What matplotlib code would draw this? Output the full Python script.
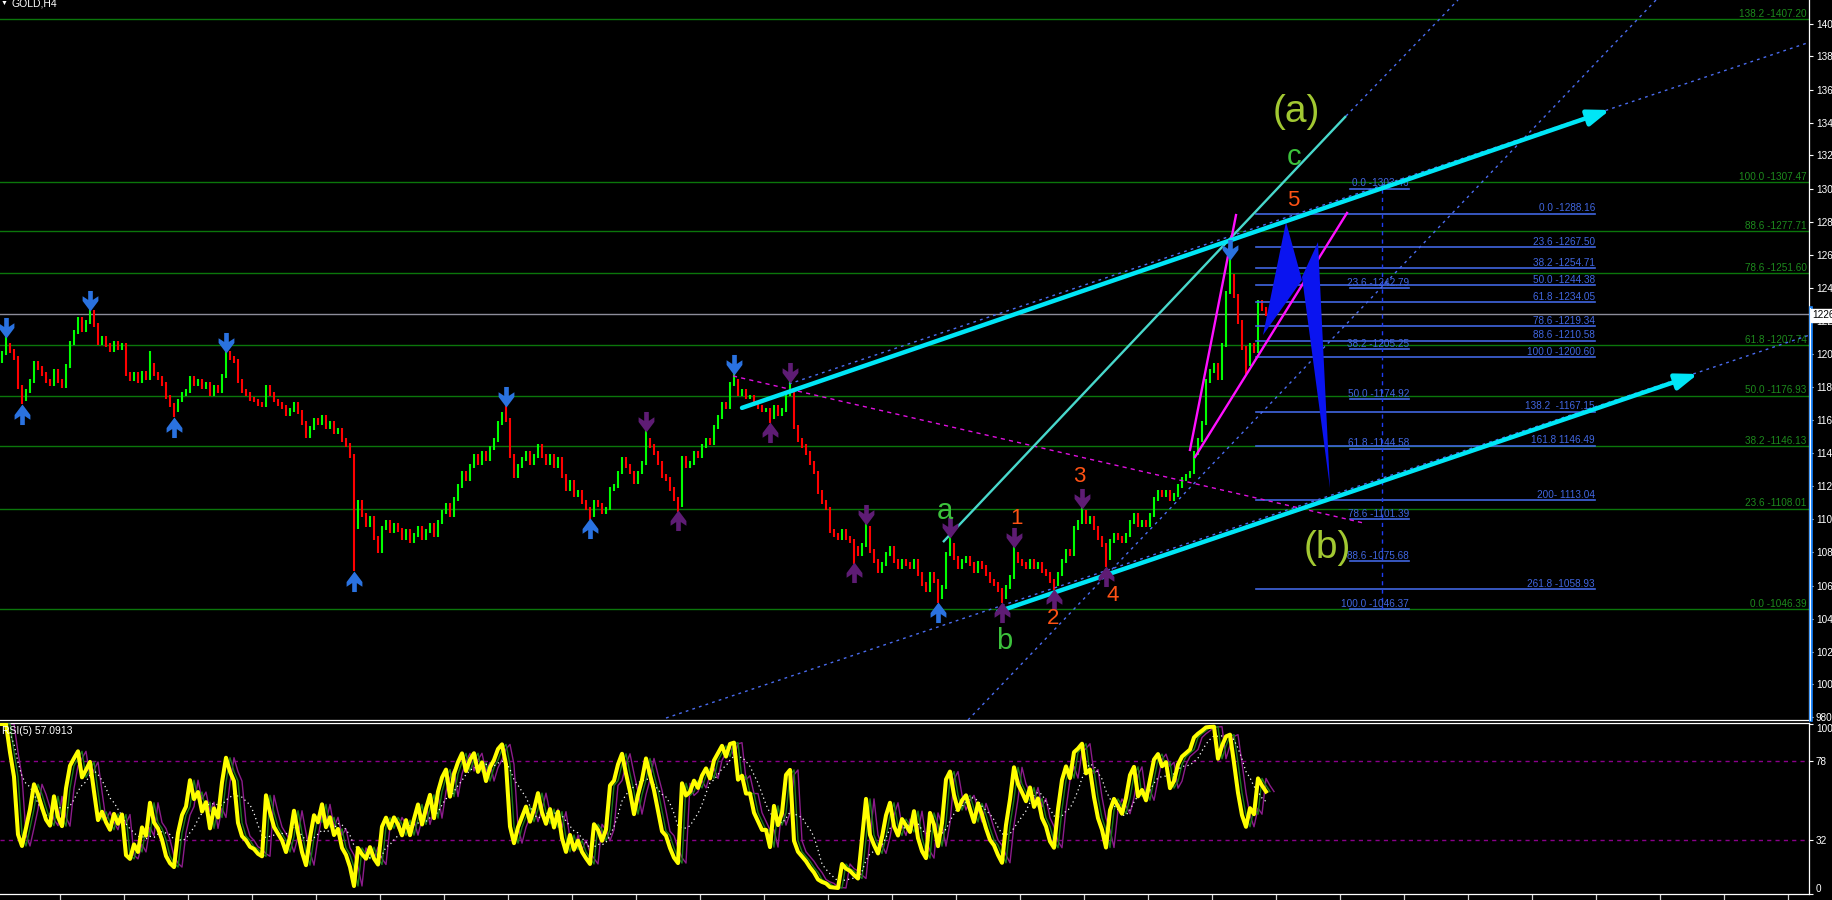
import numpy as np
import pandas as pd
import matplotlib
matplotlib.use("Agg")
import matplotlib.pyplot as plt
from matplotlib.path import Path
from matplotlib.lines import Line2D
from matplotlib.patches import Polygon

plt.rcParams["font.family"] = ["Liberation Sans", "DejaVu Sans"]

# ---------------- data ----------------
symbol_label = "GOLD,H4"
rsi_label = "RSI(5) 57.0913"

first_open = 1198.0
close = [
    1203, 1208, 1204, 1200, 1182, 1175, 1180, 1186, 1197, 1194, 1190, 1186, 1184, 1192, 1186, 1183, 1195, 1209, 1216, 1224, 1217, 1222, 1228, 1220, 1209,
    1212, 1208, 1205, 1209, 1206, 1208, 1190, 1187, 1190, 1186, 1191, 1188, 1196, 1190, 1188, 1184, 1176, 1171, 1168, 1174, 1178, 1180, 1188, 1184, 1186,
    1182, 1184, 1178, 1182, 1180, 1189, 1203, 1200, 1198, 1186, 1180, 1178, 1175, 1174, 1172, 1171, 1182, 1178, 1174, 1172, 1170, 1166, 1168, 1172, 1167,
    1160, 1152, 1157, 1162, 1160, 1164, 1158, 1160, 1155, 1156, 1150, 1147, 1140, 1097, 1112, 1104, 1098, 1102, 1090, 1082, 1096, 1100, 1094, 1098, 1095,
    1090, 1094, 1088, 1092, 1096, 1090, 1094, 1098, 1092, 1100, 1106, 1110, 1104, 1114, 1122, 1130, 1126, 1134, 1140, 1136, 1142, 1138, 1145, 1150, 1160,
    1166, 1162, 1140, 1128, 1134, 1138, 1142, 1136, 1140, 1146, 1140, 1136, 1140, 1134, 1138, 1128, 1120, 1124, 1116, 1118, 1112, 1108, 1104, 1112, 1110,
    1106, 1108, 1120, 1122, 1130, 1138, 1134, 1130, 1124, 1130, 1136, 1150, 1146, 1142, 1136, 1128, 1126, 1120, 1114, 1110, 1139, 1134, 1136, 1142, 1140,
    1146, 1150, 1148, 1158, 1164, 1172, 1170, 1184, 1186, 1178, 1180, 1176, 1176, 1172, 1170, 1168, 1168, 1164, 1170, 1166, 1168, 1178, 1180, 1158, 1150,
    1146, 1142, 1136, 1130, 1118, 1112, 1108, 1094, 1092, 1090, 1094, 1090, 1088, 1084, 1080, 1086, 1096, 1082, 1076, 1070, 1074, 1080, 1084, 1076, 1072,
    1076, 1074, 1072, 1076, 1068, 1062, 1058, 1068, 1064, 1054, 1060, 1080, 1086, 1078, 1072, 1076, 1078, 1074, 1070, 1075, 1072, 1068, 1064, 1062, 1058,
    1054, 1060, 1066, 1080, 1076, 1074, 1072, 1076, 1072, 1074, 1070, 1068, 1064, 1062, 1068, 1076, 1082, 1080, 1096, 1100, 1106, 1100, 1102, 1096, 1090,
    1086, 1078, 1088, 1092, 1090, 1088, 1092, 1100, 1104, 1098, 1100, 1098, 1104, 1114, 1118, 1116, 1118, 1114, 1116, 1122, 1126, 1128, 1130, 1142, 1150,
    1160, 1186, 1192, 1196, 1188, 1208, 1240, 1250, 1238, 1222, 1206, 1196, 1208, 1204, 1234, 1230, 1227,
]

wick_high_bar = [1, 22, 37, 56, 126, 161, 183, 197, 216, 237, 253, 270, 307]
wick_high = [1214, 1231, 1204, 1206, 1172, 1156, 1191, 1186, 1099, 1091, 1085, 1109, 1262]
wick_low_bar = [5, 43, 88, 147, 169, 192, 213, 234, 250, 263, 276, 311]
wick_low = [1172, 1164, 1070, 1101, 1106, 1160, 1074, 1050, 1050, 1058, 1072, 1190]

current_price = 1226.80
current_price_label = "1226"

price_tick_values = [980.5, 1000.5, 1020.6, 1040.8, 1060.9, 1081.2, 1101.4, 1121.5, 1141.7, 1162.0, 1182.2,
                     1202.4, 1222.5, 1243.0, 1263.1, 1283.3, 1303.5, 1324.0, 1343.8, 1364.0, 1384.2, 1404.3]
price_tick_labels = ["980.", "1000", "1020", "1040", "1060", "1081", "1101", "1121", "1141", "1162", "1182",
                     "1202", "1222", "1243", "1263", "1283", "1303", "1324", "1343", "1364", "1384", "1404"]

# fractal arrows (bar index, price)
blue_down_bar = [1, 22, 56, 126, 183, 307]
blue_down_price = [1218, 1235, 1209, 1176, 1196, 1266]
blue_up_bar = [5, 43, 88, 147, 234]
blue_up_price = [1166, 1158, 1064, 1096, 1045]
purple_down_bar = [161, 197, 216, 237, 253, 270]
purple_down_price = [1161, 1191, 1104, 1096, 1090, 1114]
purple_up_bar = [169, 192, 213, 250, 263, 276]
purple_up_price = [1101, 1155, 1069, 1045, 1053, 1067]

# green Fibonacci levels (full width)
green_fib_price = [1407.20, 1307.47, 1277.71, 1251.60, 1207.74, 1176.93, 1146.13, 1108.01, 1046.39]
green_fib_text = ["138.2 -1407.20", "100.0 -1307.47", "88.6 -1277.71", "78.6 -1251.60", "61.8 -1207.74",
                  "50.0 -1176.93", "38.2 -1146.13", "23.6 -1108.01", "0.0 -1046.39"]

# blue Fibonacci expansion
fibB_price = [1288.16, 1267.50, 1254.71, 1244.38, 1234.05, 1219.34, 1210.58, 1200.60, 1167.15, 1146.49, 1113.04, 1058.93]
fibB_text = ["0.0 -1288.16", "23.6 -1267.50", "38.2 -1254.71", "50.0 -1244.38", "61.8 -1234.05", "78.6 -1219.34",
             "88.6 -1210.58", "100.0 -1200.60", "138.2  -1167.15", "161.8 1146.49", "200- 1113.04", "261.8 -1058.93"]
fibB_bars = [313.5, 398.25]

# blue Fibonacci retracement
fibA_price = [1303.46, 1242.79, 1205.25, 1174.92, 1144.58, 1101.39, 1075.68, 1046.37]
fibA_text = ["0.0 -1303.46", "23.6 -1242.79", "38.2 -1205.25", "50.0 -1174.92", "61.8 -1144.58",
             "78.6 -1101.39", "88.6 -1075.68", "100.0 -1046.37"]
fibA_bars = [337.0, 351.75]
fibA_anchor_bar = 345.0

# trend lines: (bar0, price0, bar1, price1)
cyan_upper = [185.0, 1169.5, 402.0, 1351.5]
cyan_lower = [249.0, 1045.0, 424.0, 1190.2]
dotted_upper = [196.75, 1184.1, 452.0, 1393.0]
dotted_lower = [166.0, 980.0, 452.0, 1214.1]
turq_line = [235.25, 1087.5, 336.0, 1347.8]
turq_extension = [336.0, 1347.8, 364.0, 1418.7]
dotted_steep = [241.5, 978.8, 413.5, 1418.7]
magenta_steep = [297.0, 1143.8, 308.5, 1287.3]
magenta_lower = [298.25, 1139.5, 336.25, 1288.6]
magenta_dashed = [182.75, 1189.0, 340.5, 1099.1]

# projected zig-zag (filled triangles)
tri1_bars = [315.25, 321.0, 325.0]
tri1_price = [1214.0, 1283.1, 1247.6]
tri2_bars = [325.0, 329.0, 332.0]
tri2_price = [1249.5, 1270.8, 1120.5]

# wave labels
big_labels = ["(a)", "(b)"]
big_label_bar = [323.5, 331.25]
big_label_price = [1350.3, 1083.9]
green_labels = ["c", "a", "b"]
green_label_bar = [323.0, 235.75, 250.5]
green_label_price = [1322.8, 1106.5, 1027.0]
num_labels = ["5", "1", "2", "3", "4"]
num_label_bar = [322.75, 253.75, 262.75, 269.25, 277.75]
num_label_price = [1296.5, 1102.2, 1041.1, 1127.3, 1055.1]

rsi_period = 5
rsi_levels = [78, 32]
rsi_ticks = [0, 32, 78, 100]

# ---------------- figure ----------------
W, H = 1832, 900
fig = plt.figure(figsize=(W / 100, H / 100), dpi=100, facecolor="black")

def fx(x):
    return x / W

def fy(y):
    return 1 - y / H

ax = fig.add_axes([0, fy(720), fx(1809), 720 / H])
ax_r = fig.add_axes([0, fy(894), fx(1809), (894 - 723) / H])

for a in (ax, ax_r):
    a.set_facecolor("black")
    a.set_xlim(-0.5, 451.75)
    for s in a.spines.values():
        s.set_color("white")
        s.set_linewidth(0.9)
    a.spines["left"].set_visible(False)

ax.spines["top"].set_visible(False)
ax.set_ylim(978.8, 1418.7)

# ---- bars ----
c = np.array(close, dtype=float)
o = np.concatenate([[first_open], c[:-1]])
hi = np.maximum(o, c) + 1.2
lo = np.minimum(o, c) - 1.2
for b, v in zip(wick_high_bar, wick_high):
    hi[b] = max(hi[b], v)
for b, v in zip(wick_low_bar, wick_low):
    lo[b] = min(lo[b], v)
x = np.arange(len(c))
up = c >= o
ax.vlines(x[up], lo[up], hi[up], color="#00ff00", lw=1.5, zorder=3)
ax.vlines(x[~up], lo[~up], hi[~up], color="#ff0000", lw=1.5, zorder=3)

# ---- green fib levels ----
for p, t in zip(green_fib_price, green_fib_text):
    ax.axhline(p, color="#0b760b", lw=1.0, zorder=1)
    ax.annotate(t, (451.2, p), xytext=(0, 1.6), textcoords="offset points", ha="right", va="baseline",
                color="#1d8a1d", fontsize=7.2, zorder=2)

# current price line
ax.axhline(current_price, color="#8d8d9a", lw=1.0, zorder=1)

# ---- blue fibs ----
fib_blue = "#4066e0"
for p, t in zip(fibB_price, fibB_text):
    ax.plot(fibB_bars, [p, p], color=fib_blue, lw=1.2, zorder=4)
    ax.annotate(t, (fibB_bars[1], p), xytext=(0, 1.6), textcoords="offset points", ha="right", va="baseline",
                color=fib_blue, fontsize=7.2, zorder=5)
for p, t in zip(fibA_price, fibA_text):
    ax.plot(fibA_bars, [p, p], color=fib_blue, lw=1.2, zorder=4)
    ax.annotate(t, (fibA_bars[1], p), xytext=(0, 1.6), textcoords="offset points", ha="right", va="baseline",
                color=fib_blue, fontsize=7.2, zorder=5)
ax.plot([fibA_anchor_bar, fibA_anchor_bar], [fibA_price[0], fibA_price[-1]], color="#1e3cf0", lw=1.0,
        ls=(0, (3, 3)), zorder=4)

# ---- dotted blue channel lines ----
dot_blue = "#4a6cf0"
for L in (dotted_upper, dotted_lower, turq_extension, dotted_steep):
    ax.plot([L[0], L[2]], [L[1], L[3]], color=dot_blue, lw=1.0, ls=(0, (2, 3)), zorder=4)

# magenta dashed
ax.plot([magenta_dashed[0], magenta_dashed[2]], [magenta_dashed[1], magenta_dashed[3]],
        color="#e010e0", lw=1.0, ls=(0, (3, 3)), zorder=4)

# thin turquoise line
ax.plot([turq_line[0], turq_line[2]], [turq_line[1], turq_line[3]], color="#48d8cc", lw=1.7, zorder=5,
        solid_capstyle="butt")

# magenta wedge lines
for L in (magenta_steep, magenta_lower):
    ax.plot([L[0], L[2]], [L[1], L[3]], color="#ff10ff", lw=1.7, zorder=5)

# projected zigzag
ax.add_patch(Polygon(list(zip(tri1_bars, tri1_price)), closed=True, color="#0a14f0", lw=0, zorder=5))
ax.add_patch(Polygon(list(zip(tri2_bars, tri2_price)), closed=True, color="#0a14f0", lw=0, zorder=5))

# cyan arrows
cyan = "#00e6f6"
for L in (cyan_upper, cyan_lower):
    ax.annotate("", xy=(L[2], L[3]), xytext=(L[0], L[1]),
                arrowprops=dict(arrowstyle="-|>,head_length=0.6,head_width=0.22", color=cyan, lw=3.2,
                                shrinkA=0, shrinkB=0, mutation_scale=22),
                zorder=6)

# ---- fractal arrows ----
down_path = Path([(-0.22, 1.0), (0.22, 1.0), (0.22, 0.15), (0.75, 0.5), (0.75, 0.05), (0.0, -0.95),
                  (-0.75, 0.05), (-0.75, 0.5), (-0.22, 0.15), (-0.22, 1.0)], closed=True)
up_path = Path([(vx, -vy) for vx, vy in down_path.vertices], closed=True)
ms = 230
ax.scatter(blue_down_bar, blue_down_price, marker=down_path, s=ms, color="#2a72e0", lw=0, zorder=6)
ax.scatter(blue_up_bar, blue_up_price, marker=up_path, s=ms, color="#2a72e0", lw=0, zorder=6)
ax.scatter(purple_down_bar, purple_down_price, marker=down_path, s=ms, color="#5e1c74", lw=0, zorder=6)
ax.scatter(purple_up_bar, purple_up_price, marker=up_path, s=ms, color="#5e1c74", lw=0, zorder=6)

# ---- wave labels ----
for t, b, p in zip(big_labels, big_label_bar, big_label_price):
    ax.text(b, p, t, color="#a2c832", fontsize=28, ha="center", va="center", zorder=7)
for t, b, p in zip(green_labels, green_label_bar, green_label_price):
    ax.text(b, p, t, color="#3cc23c", fontsize=21, ha="center", va="center", zorder=7)
for t, b, p in zip(num_labels, num_label_bar, num_label_price):
    ax.text(b, p, t, color="#ff5214", fontsize=16, ha="center", va="center", zorder=7)

# ---- price axis ----
ax.yaxis.tick_right()
ax.set_yticks(price_tick_values)
ax.set_yticklabels(price_tick_labels)
ax.tick_params(axis="y", direction="out", length=3, width=0.8, colors="white", labelsize=7.2, pad=2)
ax.set_xticks([])

# ---- RSI ----
d = np.diff(c, prepend=first_open)
gain = pd.Series(np.where(d > 0, d, 0.0))
loss = pd.Series(np.where(d < 0, -d, 0.0))
ag = gain.ewm(alpha=1 / rsi_period, adjust=False).mean()
al = loss.ewm(alpha=1 / rsi_period, adjust=False).mean()
rsi = (100 - 100 / (1 + ag / al.replace(0, np.nan))).fillna(100).to_numpy()
rsi_ma = pd.Series(rsi).rolling(8, min_periods=1).mean().to_numpy()

ax_r.set_ylim(0.3, 100.6)
for lv in rsi_levels:
    ax_r.axhline(lv, color="#8a008a", lw=1.0, ls=(0, (3, 3)), zorder=1)
ax_r.plot(x + 2, rsi, color="#8b1c8b", lw=1.0, zorder=2)
ax_r.plot(x + 1, rsi, color="#1b7a1b", lw=1.0, zorder=3)
ax_r.plot(x, rsi_ma, color="white", lw=0.9, ls=(0, (1, 2.5)), zorder=4)
ax_r.plot(x, rsi, color="#ffff00", lw=2.9, zorder=5)

ax_r.yaxis.tick_right()
ax_r.set_yticks(rsi_ticks)
ax_r.set_yticklabels([str(v) for v in rsi_ticks])
for lbl in ax_r.get_yticklabels():
    if lbl.get_text() == "100":
        lbl.set_va("top")
    elif lbl.get_text() == "0":
        lbl.set_va("bottom")
ax_r.tick_params(axis="y", direction="out", length=3, width=0.8, colors="white", labelsize=7.2, pad=2)
ax_r.set_xticks(np.arange(14.5, 452, 16))
ax_r.set_xticklabels([])
ax_r.tick_params(axis="x", direction="out", length=5, width=0.9, colors="#d0d0d0")

# ---- overlays in figure space ----
fig.add_artist(Line2D([fx(1810.5)] * 2, [fy(308), fy(720)], color="#1e88ff", lw=2.6))
fig.add_artist(Line2D([fx(1809.5)] * 2, [fy(308), fy(720)], color="white", lw=0.7))
fig.text(fx(1812), fy(315), current_price_label, color="black", fontsize=7.2, ha="left", va="center",
         bbox=dict(boxstyle="square,pad=0.15", fc="white", ec="white"))
fig.text(fx(1), fy(3), "\u25bc", color="white", fontsize=5, ha="left", va="center")
fig.text(fx(11), fy(3), symbol_label, color="white", fontsize=7.5, ha="left", va="center")
fig.text(fx(2), fy(731), rsi_label, color="white", fontsize=7.5, ha="left", va="center", zorder=10)

fig.savefig("out.png", dpi=100, facecolor="black")
